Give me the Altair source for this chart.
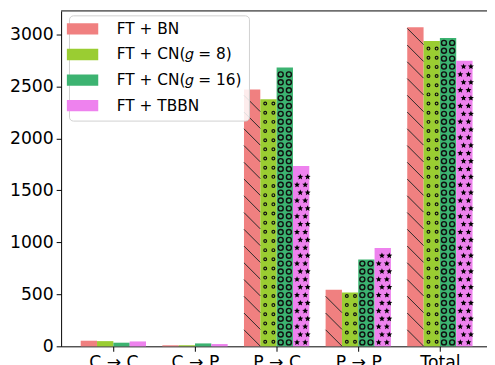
import json
import math
import altair as alt
import pandas as pd

categories = ["C → C", "C → P", "P → C", "P → P", "Total"]
series = ["FT + BN", "FT + CN(𝑔 = 8)", "FT + CN(𝑔 = 16)", "FT + TBBN"]
bn = [54, 10, 2469, 543, 3069]
cn8 = [50, 10, 2375, 518, 2936]
cn16 = [35, 28, 2681, 835, 2965]
tbbn = [47, 22, 1733, 945, 2747]
colors = ["#F08080", "#9ACD32", "#3CB371", "#EE82EE"]
y_max = 3225

values = [bn, cn8, cn16, tbbn]
BAR_W = 0.2

rows = []
for i, cat in enumerate(categories):
    for j, s in enumerate(series):
        x0 = i - 0.4 + j * BAR_W
        rows.append({"cat": cat, "series": s, "x0": x0, "x1": x0 + BAR_W,
                     "value": values[j][i], "base": 0, "j": j})
df = pd.DataFrame(rows)

# pattern textures (styling): rows of glyphs inside each bar
PX = 0.10557  # px per data unit (approx)
def pattern(j, step_px, half_px, row_fracs):
    pts = []
    step = step_px / PX
    half = half_px / PX
    for r in rows:
        if r["j"] != j:
            continue
        k = 0
        while (k + 0.5) * step + half <= r["value"]:
            fr = row_fracs[k % len(row_fracs)]
            for f in fr:
                pts.append({"px": r["x0"] + f * BAR_W, "py": (k + 0.5) * step})
            k += 1
    return pd.DataFrame(pts if pts else [{"px": 0.0, "py": -100.0}])

p_lines = pattern(0, 17.0, 8.3, [[0.5]])
p_small = pattern(1, 9.3, 2.0, [[0.3, 0.8], [0.3, 0.8]])
p_big = pattern(2, 8.0, 3.0, [[0.25, 0.75], [0.25, 0.75]])
p_star = pattern(3, 8.0, 3.2, [[0.25, 0.75], [0.45, 0.9]])

star_pts = []
for k in range(10):
    ang = -math.pi / 2 + k * math.pi / 5
    rad = 1.0 if k % 2 == 0 else 0.45
    star_pts.append(f"{rad*math.cos(ang):.3f},{rad*math.sin(ang):.3f}")
star_path = "M" + "L".join(star_pts) + "Z"

xscale = alt.Scale(domain=[-0.64, 4.577], nice=False, zero=False)
yscale = alt.Scale(domain=[0, y_max], nice=False)
label_expr = json.dumps(categories) + "[round(datum.value)]"
xaxis = alt.Axis(values=[0, 1, 2, 3, 4], labelExpr=label_expr, title=None, grid=False)
yaxis = alt.Axis(values=[0, 500, 1000, 1500, 2000, 2500, 3000], format="d",
                 title=None, grid=False)

bars = alt.Chart(df).mark_rect(strokeWidth=0).encode(
    x=alt.X("x0:Q", scale=xscale, axis=xaxis),
    x2="x1:Q",
    y=alt.Y("value:Q", scale=yscale, axis=yaxis),
    y2="base:Q",
    color=alt.Color("series:N", scale=alt.Scale(domain=series, range=colors),
                    legend=alt.Legend(title=None)),
)

def plyr(data, **mk):
    return alt.Chart(data).mark_point(**mk).encode(
        x=alt.X("px:Q", scale=xscale, axis=xaxis),
        y=alt.Y("py:Q", scale=yscale, axis=yaxis),
    )

lines = plyr(p_lines, shape="M-1,-1L1,1", filled=False, stroke="#2a2a2a",
             strokeWidth=1.0, size=276, opacity=1)
small = plyr(p_small, shape="circle", filled=False, stroke="#111111",
             strokeWidth=1.2, size=8, opacity=1)
big = plyr(p_big, shape="circle", filled=False, stroke="#111111",
           strokeWidth=1.4, size=26, opacity=1)
stars = plyr(p_star, shape=star_path, filled=True, fill="#000000",
             strokeWidth=0, size=40, opacity=1)

top_spine = alt.Chart(pd.DataFrame({"top": [y_max]})).mark_rule(
    color="#000000", strokeWidth=1
).encode(y=alt.Y("top:Q", scale=yscale, axis=yaxis))

chart = alt.layer(bars, lines, small, big, stars, top_spine).properties(
    width=433, height=341,
    autosize=alt.AutoSizeParams(type="none"),
    padding={"left": 54, "top": 0, "right": 0, "bottom": 16},
).configure(font="DejaVu Sans").configure_view(
    strokeWidth=0
).configure_axis(
    labelFontSize=17.5, labelColor="#000000", tickColor="#000000",
    domainColor="#000000", tickSize=5, labelPadding=3, labelFont="DejaVu Sans",
).configure_legend(
    orient="none", legendX=8, legendY=4.5, padding=6,
    fillColor="rgba(255,255,255,0.85)", strokeColor="#d0d0d0", cornerRadius=4,
    labelFontSize=15.6, labelFont="DejaVu Sans", labelColor="#000000",
    symbolType="M-2.9,-1.05L2.9,-1.05L2.9,1.05L-2.9,1.05Z", symbolSize=121,
    symbolStrokeWidth=0, symbolOpacity=1, rowPadding=9, labelOffset=27,
)

chart.save("out.html", embed_options={"renderer": "svg", "actions": False})
